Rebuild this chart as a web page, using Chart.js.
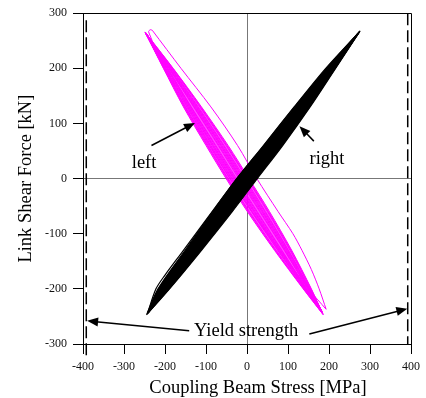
<!DOCTYPE html>
<html>
<head>
<meta charset="utf-8">
<script src="https://cdn.jsdelivr.net/npm/chart.js@4/dist/chart.umd.min.js"></script>
<style>
  html, body { margin: 0; background: #fff; }
  canvas { display: block; }
</style>
</head>
<body>
<canvas id="c" width="426" height="398"></canvas>
<script>
// hysteresis loops: [stress MPa, shear kN]
// turning points are listed twice so the smoothing keeps them sharp
// "right" link (black)
const right1 = [[-245,-247],[-217,-200],[-151,-130],[-84,-60],[-25,0],[41,60],[116,130],[194,200],[275,267],[275,267],
  [216,200],[154,130],[87,60],[25,0],[-36,-60],[-111,-130],[-189,-200],[-245,-247]];
const right2 = [[-243,-245],[-214,-200],[-147,-130],[-79,-60],[-20,0],[46,60],[120,130],[196,200],[273,265],[273,265],
  [214,200],[150,130],[82,60],[20,0],[-41,-60],[-115,-130],[-192,-200],[-243,-245]];
const right3 = [[-241,-243],[-211,-200],[-143,-130],[-74,-60],[-15,0],[50,60],[124,130],[198,200],[276,268],[276,268],
  [212,200],[146,130],[78,60],[15,0],[-46,-60],[-119,-130],[-195,-200],[-241,-243]];
const right4 = [[-240,-242],[-209,-200],[-139,-130],[-70,-60],[-10,0],[55,60],[127,130],[201,200],[272,264],[272,264],
  [209,200],[143,130],[73,60],[10,0],[-50,-60],[-123,-130],[-197,-200],[-240,-242]];
const right5 = [[-238,-240],[-206,-200],[-135,-130],[-65,-60],[-5,0],[59,60],[131,130],[203,200],[270,263],[270,263],
  [207,200],[139,130],[69,60],[5,0],[-55,-60],[-127,-130],[-200,-200],[-238,-240]];
const right6 = [[-243,-245],[-222,-200],[-200,-175],[-160,-135],[-95,-70],[-30,-5],[40,60],[115,130],[192,200],[274,266],[274,266],
  [215,200],[152,130],[84,60],[22,0],[-40,-60],[-113,-130],[-190,-200],[-243,-245]];

// "left" link (magenta)
const left1 = [[-249,266],[-180,200],[-111,130],[-46,60],[5,0],[55,-60],[109,-130],[157,-200],[186,-247],[186,-247],
  [137,-200],[67,-130],[1,-60],[-51,0],[-100,60],[-155,130],[-204,200],[-249,266]];
const left2 = [[-248,265],[-181,200],[-113,130],[-49,60],[2,0],[52,-60],[107,-130],[156,-200],[185,-246],[185,-246],
  [138,-200],[69,-130],[4,-60],[-48,0],[-97,60],[-153,130],[-203,200],[-248,265]];
const left3 = [[-248,264],[-182,200],[-115,130],[-51,60],[0,0],[50,-60],[105,-130],[155,-200],[184,-244],[184,-244],
  [139,-200],[71,-130],[6,-60],[-46,0],[-95,60],[-151,130],[-202,200],[-248,264]];
const left4 = [[-246,262],[-184,200],[-119,130],[-56,60],[-5,0],[45,-60],[101,-130],[153,-200],[183,-241],[183,-241],
  [141,-200],[75,-130],[11,-60],[-41,0],[-90,60],[-147,130],[-200,200],[-246,262]];
const left5 = [[-247,263],[-185,200],[-121,130],[-58,60],[-8,0],[43,-60],[100,-130],[153,-200],[184,-243],[184,-243],
  [141,-200],[76,-130],[13,-60],[-38,0],[-88,60],[-145,130],[-199,200],[-247,263]];
const left6 = [[-247,265],[-186,200],[-123,130],[-61,60],[-10,0],[40,-60],[98,-130],[152,-200],[185,-245],[185,-245],
  [142,-200],[78,-130],[16,-60],[-36,0],[-85,60],[-143,130],[-198,200],[-247,265]];
const left7 = [[-246,264],[-188,200],[-125,130],[-63,60],[-13,0],[38,-60],[96,-130],[151,-200],[183,-242],[183,-242],
  [143,-200],[80,-130],[18,-60],[-33,0],[-83,60],[-141,130],[-196,200],[-246,264]];
const left8 = [[-245,263],[-189,200],[-127,130],[-65,60],[-15,0],[36,-60],[94,-130],[150,-200],[182,-240],[182,-240],
  [144,-200],[82,-130],[20,-60],[-31,0],[-81,60],[-139,130],[-195,200],[-245,263]];
const left9 = [[-245,261],[-190,200],[-129,130],[-68,60],[-17,0],[33,-60],[92,-130],[149,-200],[182,-239],[182,-239],
  [145,-200],[84,-130],[23,-60],[-29,0],[-78,60],[-137,130],[-194,200],[-245,261]];
const left10 = [[-244,260],[-191,200],[-130,130],[-70,60],[-20,0],[31,-60],[91,-130],[148,-200],[181,-238],[181,-238],
  [146,-200],[85,-130],[25,-60],[-26,0],[-76,60],[-136,130],[-193,200],[-244,260]];
const leftOuter = [[-231,269],[-161,200],[-88,130],[-23,60],[24,0],[76,-60],[112,-100],[134,-130],[157,-165],[176,-200],[193,-237],[193,-237],
  [150,-200],[80,-130],[12,-60],[-42,0],[-92,60],[-150,130],[-200,200],[-240,266],[-236,270],[-231,269]];

// yield strength markers
const YIELD_X = [-392, 392];
const YIELD_TOP = [287, 300];
const YIELD_BOTTOM = [-322, -300];

// annotations (text baseline, arrows tail -> tip)
const NOTE_TEXT = ['left', 'right', 'Yield strength'];
const NOTE_X = [-251, 195, -2];
const NOTE_Y = [20, 26, -285];
const ARROW_FROM_X = [-233, 163, -141, 152];
const ARROW_FROM_Y = [60, 68, -276, -282];
const ARROW_TO_X = [-127, 128, -390, 391];
const ARROW_TO_Y = [101, 95, -258, -236];

const X_TICKS = [-400, -300, -200, -100, 0, 100, 200, 300, 400];
const Y_TICKS = [-300, -200, -100, 0, 100, 200, 300];

const SERIF = "'Liberation Serif', 'Times New Roman', serif";
const BLACK = '#000';
const MAGENTA = '#ff00ff';

const loop = (pts, color, w, fillColor) => ({
  data: pts.map(([x, y]) => ({ x, y })),
  showLine: true, borderColor: color, borderWidth: w,
  pointRadius: 0, tension: 0.3,
  fill: fillColor ? 'shape' : false,
  backgroundColor: fillColor || 'transparent',
});

const datasets = [
  ...[right2, right3, right4, right5, right6].map((p) => loop(p, BLACK, 1.2)),
  loop(right1, BLACK, 1.2, BLACK),
  ...[left2, left3, left4, left5, left6, left7, left8, left9, left10, leftOuter].map((p) => loop(p, MAGENTA, 1)),
  loop(left1, MAGENTA, 1, 'rgba(255,0,255,0.7)'),
  ...YIELD_X.map((x, i) => ({
    data: [{ x, y: YIELD_TOP[i] }, { x, y: YIELD_BOTTOM[i] }],
    showLine: true, borderColor: BLACK, borderWidth: 1.5, borderDash: [12, 5],
    pointRadius: 0, clip: false,
  })),
];

function arrow(ctx, x1, y1, x2, y2) {
  const a = Math.atan2(y2 - y1, x2 - x1), L = 11, W = 4.5;
  const c = Math.cos(a), s = Math.sin(a);
  ctx.beginPath();
  ctx.moveTo(x1, y1);
  ctx.lineTo(x2 - L * 0.8 * c, y2 - L * 0.8 * s);
  ctx.stroke();
  ctx.beginPath();
  ctx.moveTo(x2, y2);
  ctx.lineTo(x2 - L * c + W * s, y2 - L * s - W * c);
  ctx.lineTo(x2 - L * c - W * s, y2 - L * s + W * c);
  ctx.closePath();
  ctx.fill();
}

const decor = {
  id: 'decor',
  afterDraw(chart) {
    const { ctx, chartArea: a, scales: { x, y } } = chart;
    ctx.save();
    // top and right frame
    ctx.strokeStyle = BLACK;
    ctx.lineWidth = 1;
    ctx.beginPath();
    ctx.moveTo(Math.round(a.left) + 0.5, Math.round(a.top) + 0.5);
    ctx.lineTo(Math.round(a.right) + 0.5, Math.round(a.top) + 0.5);
    ctx.lineTo(Math.round(a.right) + 0.5, Math.round(a.bottom) + 0.5);
    ctx.stroke();
    // notes
    ctx.fillStyle = BLACK;
    ctx.font = `18.5px ${SERIF}`;
    ctx.textAlign = 'center';
    ctx.textBaseline = 'alphabetic';
    NOTE_TEXT.forEach((t, i) => ctx.fillText(t, x.getPixelForValue(NOTE_X[i]), y.getPixelForValue(NOTE_Y[i])));
    ctx.lineWidth = 1.5;
    ARROW_FROM_X.forEach((fx, i) => arrow(ctx,
      x.getPixelForValue(fx), y.getPixelForValue(ARROW_FROM_Y[i]),
      x.getPixelForValue(ARROW_TO_X[i]), y.getPixelForValue(ARROW_TO_Y[i])));
    // x axis title (sits a little right of the plot centre in the original)
    ctx.fillText('Coupling Beam Stress [MPa]', (a.left + a.right) / 2 + 11, chart.height - 5);
    ctx.restore();
  },
};

const zeroGrid = (c) => (c.tick && c.tick.value === 0 ? '#777' : 'rgba(0,0,0,0)');

new Chart(document.getElementById('c'), {
  type: 'scatter',
  data: { datasets },
  options: {
    responsive: false,
    animation: false,
    layout: { padding: { top: 13, right: 10, left: 0, bottom: 0 } },
    plugins: { legend: { display: false }, tooltip: { enabled: false } },
    scales: {
      x: {
        type: 'linear', min: -400, max: 400, z: 1,
        afterBuildTicks: (s) => { s.ticks = X_TICKS.map((v) => ({ value: v })); },
        afterFit: (s) => { s.height = 54; },
        ticks: { color: '#111', padding: 6, font: { family: SERIF, size: 12 } },
        grid: { color: zeroGrid, tickColor: BLACK, tickLength: 10, lineWidth: 1 },
        border: { color: BLACK, width: 1 },
      },
      y: {
        type: 'linear', min: -300, max: 300, z: 1,
        afterBuildTicks: (s) => { s.ticks = Y_TICKS.map((v) => ({ value: v })); },
        afterFit: (s) => { s.width = 83; },
        ticks: { color: '#111', padding: 6, font: { family: SERIF, size: 12 } },
        grid: { color: zeroGrid, tickColor: BLACK, tickLength: 10, lineWidth: 1 },
        border: { color: BLACK, width: 1 },
        title: {
          display: true, text: 'Link Shear Force [kN]', color: BLACK,
          font: { family: SERIF, size: 18.5 }, padding: { top: 15, bottom: 0 },
        },
      },
    },
  },
  plugins: [decor],
});
</script>
</body>
</html>
